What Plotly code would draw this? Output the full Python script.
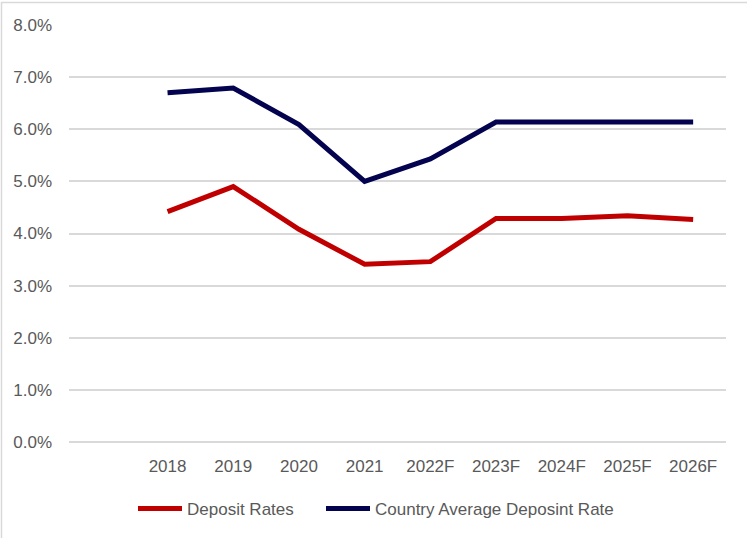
import plotly.graph_objects as go

# Category axis: a blank slot precedes the first year
categories = [" ", "2018", "2019", "2020", "2021", "2022F", "2023F", "2024F", "2025F", "2026F"]
years = ["2018", "2019", "2020", "2021", "2022F", "2023F", "2024F", "2025F", "2026F"]

deposit_rates = [4.42, 4.90, 4.08, 3.41, 3.46, 4.29, 4.29, 4.34, 4.27]
country_avg_rate = [6.70, 6.79, 6.09, 5.00, 5.43, 6.14, 6.14, 6.14, 6.14]

y_ticks = [0, 1, 2, 3, 4, 5, 6, 7, 8]
y_tick_labels = [f"{v:.1f}%" for v in y_ticks]

FONT = "Liberation Sans, Arial, sans-serif"
TEXT_GREY = "#595959"
GRID = "#D9D9D9"

# Plot-area size in pixels, used to place items in paper coordinates
L, R, T, B = 69, 21, 25, 95
W, H = 747, 538
px_w = W - L - R
px_h = H - T - B


def paper_x(px):
    return (px - L) / px_w


def paper_y(py):
    return (H - B - py) / px_h


fig = go.Figure()
fig.add_trace(go.Scatter(
    x=years, y=deposit_rates, name="Deposit Rates",
    mode="lines", line=dict(color="#C00000", width=5), legend="legend",
))
fig.add_trace(go.Scatter(
    x=years, y=country_avg_rate, name="Country Average Deposint Rate",
    mode="lines", line=dict(color="#03034F", width=5), legend="legend2",
))

legend_common = dict(
    orientation="h", xanchor="left", yanchor="middle", y=paper_y(509),
    font=dict(size=17, color=TEXT_GREY), itemwidth=44, bgcolor="rgba(0,0,0,0)",
)

fig.update_layout(
    width=W, height=H,
    margin=dict(l=L, r=R, t=T, b=B),
    paper_bgcolor="white", plot_bgcolor="white",
    font=dict(family=FONT, size=17, color=TEXT_GREY),
    showlegend=True,
    legend=dict(x=paper_x(133), **legend_common),
    legend2=dict(x=paper_x(321), **legend_common),
    xaxis=dict(
        type="category", categoryorder="array", categoryarray=categories,
        range=[-0.5, 9.5], showgrid=False, showline=False, zeroline=False,
        tickfont=dict(size=17, color=TEXT_GREY), ticklabelstandoff=12,
    ),
    yaxis=dict(
        range=[0, 8], tickvals=y_ticks, ticktext=y_tick_labels,
        showgrid=True, gridcolor=GRID, gridwidth=1.5,
        zeroline=True, zerolinecolor=GRID, zerolinewidth=1.5,
        showline=False, tickfont=dict(size=17, color=TEXT_GREY),
        ticklabelstandoff=16,
    ),
)

# Chart-area frame (left and top edges fall inside the page)
fig.add_shape(
    type="rect", xref="paper", yref="paper",
    x0=paper_x(1.5), x1=paper_x(760),
    y0=paper_y(560), y1=paper_y(2.5),
    line=dict(color="#D9D9D9", width=1.5), fillcolor="rgba(0,0,0,0)", layer="below",
)

fig.write_html("out.html")
